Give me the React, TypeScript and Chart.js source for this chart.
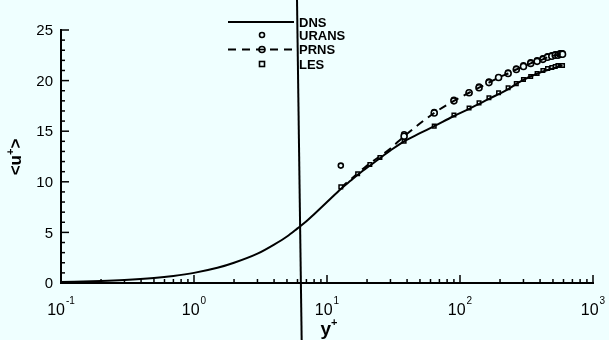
import React, { useEffect, useRef } from "react";
import { Chart, registerables } from "chart.js";

Chart.register(...registerables);

// ---- data ----
const DNS_YPLUS = [0.1, 0.2, 0.3, 0.5, 0.7, 1, 1.5, 2, 3, 4, 5, 6, 7, 8, 10, 12.7, 15, 18, 23.4, 30, 38, 50, 64, 90, 117, 139, 165, 220, 292, 400, 500, 590];
const DNS_U = [0.1, 0.2, 0.3, 0.5, 0.7, 1.0, 1.5, 2.0, 2.9, 3.8, 4.6, 5.4, 6.1, 6.8, 8.0, 9.3, 10.1, 10.95, 12.05, 13.1, 14.0, 14.8, 15.5, 16.5, 17.2, 17.7, 18.2, 19.0, 20.0, 20.8, 21.2, 21.5];

const LES_YPLUS = [12.7, 17, 21, 25, 38, 64, 90, 117, 139, 165, 195, 230, 265, 300, 340, 380, 420, 455, 490, 520, 545, 565, 580, 590];
const LES_U = [9.5, 10.8, 11.7, 12.4, 14.0, 15.5, 16.6, 17.3, 17.8, 18.3, 18.8, 19.3, 19.7, 20.1, 20.4, 20.7, 21.0, 21.2, 21.3, 21.4, 21.5, 21.5, 21.5, 21.5];

const PRNS_YPLUS = [12.7, 20, 30, 38, 64, 90, 117, 139, 165, 195, 230, 265, 300, 340, 380, 420, 455, 490, 520, 545, 565, 580, 590];
const PRNS_U = [9.4, 11.6, 13.3, 14.5, 16.8, 18.0, 18.8, 19.3, 19.8, 20.3, 20.7, 21.1, 21.4, 21.7, 21.9, 22.1, 22.3, 22.4, 22.5, 22.5, 22.6, 22.6, 22.6];
const PRNS_MARK_YPLUS = [38, 64, 90, 117, 139, 165, 195, 230, 265, 300, 340, 380, 420, 455, 490, 520, 545, 565, 580, 590];

const URANS_YPLUS = [12.7, 38, 64, 90, 117, 139, 165, 195, 230, 265, 300, 340, 380, 420, 455, 490, 520, 545, 565, 580, 590];
const URANS_U = [11.6, 14.7, 16.9, 18.1, 18.8, 19.4, 19.9, 20.3, 20.8, 21.2, 21.5, 21.8, 22.0, 22.2, 22.4, 22.5, 22.6, 22.6, 22.7, 22.7, 22.7];

const X_DECADES = [-1, 0, 1, 2, 3];
const Y_TICKS = [0, 5, 10, 15, 20, 25];
const LEGEND_LABELS = ["DNS", "URANS", "PRNS", "LES"];
const X_TITLE = "y";
const Y_TITLE = "<u";

const BG = "#efffff";
const INK = "#000";
const FONT = '"Liberation Sans", Arial, sans-serif';

const pts = (xs: number[], ys: number[]) => xs.map((x, i) => ({ x, y: ys[i] }));

export default function App() {
  const ref = useRef<HTMLCanvasElement | null>(null);

  useEffect(() => {
    document.body.style.margin = "0";
    document.body.style.background = BG;
    const canvas = ref.current!;

    const overlay = {
      id: "overlay",
      afterDraw(chart: any) {
        const ctx = chart.ctx as CanvasRenderingContext2D;
        const xs = chart.scales.x;
        const ys = chart.scales.y;
        const area = chart.chartArea;
        ctx.save();
        ctx.strokeStyle = INK;
        ctx.fillStyle = INK;

        // y ticks (inward)
        ctx.lineWidth = 1.5;
        for (let v = 0; v <= 25; v++) {
          const p = ys.getPixelForValue(v);
          const len = v % 5 === 0 ? 8 : 4;
          ctx.beginPath();
          ctx.moveTo(area.left, p);
          ctx.lineTo(area.left + len, p);
          ctx.stroke();
        }
        // x ticks (inward)
        X_DECADES.forEach((d) => {
          for (let m = 1; m <= 9; m++) {
            if (d === 3 && m > 1) break;
            const v = m * Math.pow(10, d);
            const p = xs.getPixelForValue(v);
            const len = m === 1 ? 8 : 4;
            ctx.beginPath();
            ctx.moveTo(p, area.bottom);
            ctx.lineTo(p, area.bottom - len);
            ctx.stroke();
          }
        });

        // y labels
        ctx.font = `15px ${FONT}`;
        ctx.textAlign = "right";
        ctx.textBaseline = "middle";
        Y_TICKS.forEach((v) => {
          ctx.fillText(String(v), area.left - 8, ys.getPixelForValue(v) + 1);
        });

        // x labels 10^n
        ctx.textBaseline = "alphabetic";
        ctx.textAlign = "left";
        X_DECADES.forEach((d) => {
          const p = xs.getPixelForValue(Math.pow(10, d));
          const base = "10";
          const exp = String(d);
          ctx.font = `16px ${FONT}`;
          const wb = ctx.measureText(base).width;
          ctx.font = `10px ${FONT}`;
          const we = ctx.measureText(exp).width;
          const x0 = p - (wb + 1 + we) / 2;
          ctx.font = `16px ${FONT}`;
          ctx.fillText(base, x0, 315);
          ctx.font = `10px ${FONT}`;
          ctx.fillText(exp, x0 + wb + 1, 304);
        });

        // x title y+
        ctx.font = `bold 19px ${FONT}`;
        const wy = ctx.measureText(X_TITLE).width;
        ctx.font = `bold 11px ${FONT}`;
        const wp = ctx.measureText("+").width;
        const cx = (area.left + area.right) / 2 + 2;
        const tx = cx - (wy + wp) / 2;
        ctx.font = `bold 19px ${FONT}`;
        ctx.fillText(X_TITLE, tx, 335);
        ctx.font = `bold 11px ${FONT}`;
        ctx.fillText("+", tx + wy, 326);

        // y title <u+>
        ctx.save();
        ctx.translate(21, 157);
        ctx.rotate(-Math.PI / 2);
        ctx.font = `bold 17px ${FONT}`;
        const w1 = ctx.measureText(Y_TITLE).width;
        const w3 = ctx.measureText(">").width;
        ctx.font = `bold 11px ${FONT}`;
        const w2 = ctx.measureText("+").width;
        const sx = -(w1 + w2 + w3) / 2;
        ctx.font = `bold 17px ${FONT}`;
        ctx.fillText(Y_TITLE, sx, 0);
        ctx.font = `bold 11px ${FONT}`;
        ctx.fillText("+", sx + w1, -7);
        ctx.font = `bold 17px ${FONT}`;
        ctx.fillText(">", sx + w1 + w2, 0);
        ctx.restore();

        // legend
        const lx0 = 228, lx1 = 294, mx = 262, tx0 = 299;
        const rows = [22, 35, 49.5, 64];
        ctx.font = `bold 13px ${FONT}`;
        ctx.textBaseline = "middle";
        ctx.textAlign = "left";
        LEGEND_LABELS.forEach((lab, i) => ctx.fillText(lab, tx0, rows[i] + 1));
        ctx.lineWidth = 2;
        ctx.beginPath();
        ctx.moveTo(lx0, rows[0]);
        ctx.lineTo(lx1, rows[0]);
        ctx.stroke();
        ctx.setLineDash([8, 6]);
        ctx.beginPath();
        ctx.moveTo(lx0, rows[2]);
        ctx.lineTo(lx1, rows[2]);
        ctx.stroke();
        ctx.setLineDash([]);
        ctx.lineWidth = 1.6;
        ctx.fillStyle = BG;
        ctx.beginPath();
        ctx.arc(mx, rows[1], 2.5, 0, Math.PI * 2);
        ctx.fill();
        ctx.stroke();
        ctx.beginPath();
        ctx.arc(mx, rows[2], 3, 0, Math.PI * 2);
        ctx.fill();
        ctx.stroke();
        ctx.beginPath();
        ctx.moveTo(mx - 3, rows[2]);
        ctx.lineTo(mx + 3, rows[2]);
        ctx.stroke();
        ctx.fillRect(mx - 2.5, rows[3] - 2.5, 5, 5);
        ctx.strokeRect(mx - 2.5, rows[3] - 2.5, 5, 5);

        // scan fold line
        ctx.strokeStyle = INK;
        ctx.lineWidth = 2;
        ctx.beginPath();
        ctx.moveTo(xs.getPixelForValue(5.95), 0);
        ctx.lineTo(xs.getPixelForValue(6.45), chart.height);
        ctx.stroke();
        ctx.restore();
      },
    };

    const prnsMarks = PRNS_MARK_YPLUS.map((x) => ({ x, y: PRNS_U[PRNS_YPLUS.indexOf(x)] }));

    const chart = new Chart(canvas, {
      type: "line",
      data: {
        datasets: [
          {
            label: "DNS",
            data: pts(DNS_YPLUS, DNS_U),
            borderColor: INK,
            borderWidth: 2,
            pointRadius: 0,
            cubicInterpolationMode: "monotone",
          },
          {
            label: "LES",
            data: pts(LES_YPLUS, LES_U),
            showLine: false,
            pointStyle: "rect",
            pointRadius: 2.5,
            pointBorderWidth: 1.5,
            pointBorderColor: INK,
            pointBackgroundColor: BG,
          },
          {
            label: "PRNS",
            data: pts(PRNS_YPLUS, PRNS_U),
            borderColor: INK,
            borderWidth: 2,
            borderDash: [8, 6],
            pointRadius: 0,
            cubicInterpolationMode: "monotone",
          },
          {
            label: "PRNS markers",
            data: prnsMarks,
            showLine: false,
            pointStyle: "circle",
            pointRadius: 3,
            pointBorderWidth: 1.6,
            pointBorderColor: INK,
            pointBackgroundColor: BG,
          },
          {
            label: "URANS",
            data: pts(URANS_YPLUS, URANS_U),
            showLine: false,
            pointStyle: "circle",
            pointRadius: 2.5,
            pointBorderWidth: 1.6,
            pointBorderColor: INK,
            pointBackgroundColor: BG,
          },
        ],
      },
      options: {
        animation: false,
        responsive: false,
        devicePixelRatio: 1,
        layout: { padding: { left: 0, right: 16, top: 30, bottom: 0 } },
        plugins: { legend: { display: false }, tooltip: { enabled: false } },
        scales: {
          x: {
            type: "logarithmic",
            min: 0.1,
            max: 1000,
            grid: { display: false, drawTicks: false },
            ticks: { display: false },
            border: { display: true, color: INK, width: 2 },
            afterFit: (s: any) => { s.height = 57; },
          },
          y: {
            min: 0,
            max: 25,
            grid: { display: false, drawTicks: false },
            ticks: { display: false },
            border: { display: true, color: INK, width: 2 },
            afterFit: (s: any) => { s.width = 61; },
          },
        },
      },
      plugins: [overlay],
    } as any);

    return () => chart.destroy();
  }, []);

  return (
    <div style={{ width: 609, height: 340, background: BG }}>
      <canvas ref={ref} width={609} height={340} style={{ display: "block" }} />
    </div>
  );
}
